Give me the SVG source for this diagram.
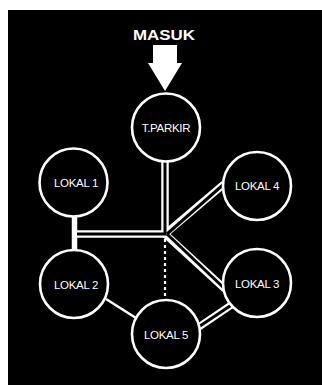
<svg xmlns="http://www.w3.org/2000/svg" width="322" height="385" viewBox="0 0 322 385">
<style>
.node circle{fill:#000;stroke:#fff;stroke-width:2.6}
.node text{fill:#fff;font-family:"Liberation Sans",Arial,sans-serif;font-size:11.5px;text-anchor:middle;letter-spacing:-0.3px}
.dblw{fill:none;stroke:#fff;stroke-width:7.5}
.dblb{fill:none;stroke:#000;stroke-width:3}
.single{fill:none;stroke:#fff;stroke-width:2.5}
</style>
<rect x="0" y="0" width="322" height="385" fill="#fff"/>
<rect x="8" y="10" width="314" height="375" fill="#000"/>
<g id="entry">
<text x="164" y="39.5" fill="#fff" font-family="'Liberation Sans',Arial,sans-serif" font-weight="bold" font-size="15.5" text-anchor="middle" textLength="62" lengthAdjust="spacingAndGlyphs">MASUK</text>
<polygon points="153,45 177,45 177,63 182,63 165,91 148,63 153,63" fill="#fff"/>
</g>
<g id="connectors">
<line x1="74.5" y1="214" x2="74.5" y2="250" stroke="#fff" stroke-width="5.5"/>
<path class="dblw" d="M77,234 H165 V160"/>
<path class="dblw" d="M165,234 L224,184"/>
<path class="dblw" d="M165,234 L225,289"/>
<path class="dblw" d="M198,327.5 L232,304.5"/>
<path class="dblb" d="M77,234 H165 V160"/>
<path class="dblb" d="M167,234 L224,184"/>
<path class="dblb" d="M167,234 L225,289"/>
<path class="dblb" d="M197,328 L233,304"/>
<line x1="165" y1="239" x2="165" y2="300" stroke="#fff" stroke-width="2.2" stroke-dasharray="3,3"/>
<line class="single" x1="106" y1="299" x2="136" y2="318"/>
</g>
<g id="tparkir" class="node"><circle cx="166" cy="127.5" r="34"/><text x="166" y="131.5">T.PARKIR</text></g>
<g id="lokal1" class="node"><circle cx="73.5" cy="182.5" r="34"/><text x="76" y="187">LOKAL 1</text></g>
<g id="lokal4" class="node"><circle cx="257" cy="186" r="34"/><text x="257" y="190">LOKAL 4</text></g>
<g id="lokal2" class="node"><circle cx="74" cy="284" r="34"/><text x="76" y="288.5">LOKAL 2</text></g>
<g id="lokal3" class="node"><circle cx="257" cy="283" r="34"/><text x="257" y="287.5">LOKAL 3</text></g>
<g id="lokal5" class="node"><circle cx="166" cy="334" r="34"/><text x="166" y="338.5">LOKAL 5</text></g>
</svg>
